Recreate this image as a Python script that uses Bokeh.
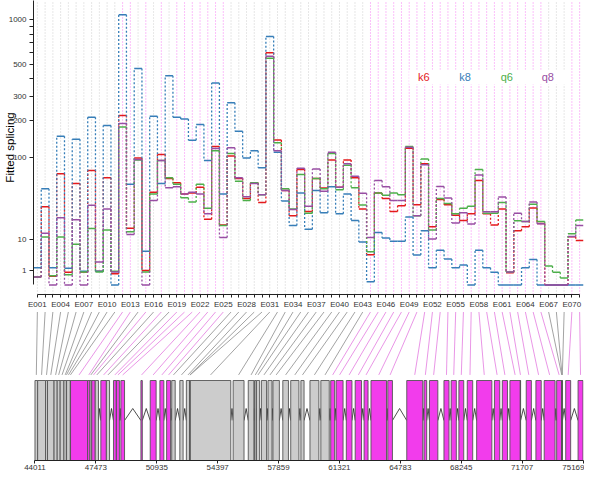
import numpy as np
from bokeh.plotting import figure
from bokeh.layouts import column
from bokeh.models import Range1d, FixedTicker, CustomJSTickFormatter
from bokeh.embed import file_html
from bokeh.resources import INLINE
from bokeh.core.properties import value

# ---------------- data ----------------
exon_ids = ["E%03d" % i for i in range(1, 72)]

k6 = [0.3, 32, 0.35, 72, 0.75, 58, 0.8, 77, 0.9, 66,
      0.6, 218, 16, 100, 1.0, 47, 107, 65, 59, 45,
      46, 53, 22, 125, 18, 104, 65, 40, 59, 36,
      600, 141, 49, 24.5, 79, 28, 65, 52, 96, 53,
      96, 66, 30, 4.4, 46, 40, 28, 33, 121, 34,
      89, 17, 39, 34, 25, 21, 26, 62, 26, 18,
      30, 0.7, 14.6, 17, 31, 19, 0, 0, 0, 11.4, 9.7]
k8 = [1.4, 51, 1.4, 151, 1.3, 143, 0.9, 211, 0.9, 183,
      0, 1070, 57, 470, 5.5, 215, 58, 420, 211, 205,
      140, 186, 95, 373, 45, 270, 165, 100, 115, 82,
      770, 112, 37.5, 17.7, 46, 15.5, 49, 27, 53.6, 26,
      45, 21, 9, 0.05, 13.6, 10.8, 9.3, 9.3, 23.6, 4.3,
      14.6, 1.4, 5.8, 3.2, 1.4, 1.9, 0, 5.8, 1.4, 0.75,
      0, 0, 0, 1.4, 3.1, 0, 0, 0, 0, 0, 0]
q6 = [0.3, 11.3, 0.4, 11.3, 0.5, 8, 0.8, 15.9, 0.8, 15,
      0.9, 178, 14, 96, 0.8, 45, 95, 66, 57, 41,
      36.5, 57, 30.6, 115, 17.7, 109, 61, 38, 59, 44,
      552, 134, 51, 30, 71, 26.5, 65, 51, 109, 50,
      86, 52.5, 33.6, 5.3, 46, 43.5, 46, 44, 125, 24.5,
      98, 15, 40, 35, 26, 30.6, 32.6, 79, 26.5, 26.5,
      36, 0.8, 20.8, 20.4, 34.3, 20.4, 1.7, 0.75, 0.23, 12.9, 21.4]
q8 = [0.3, 13.2, 0, 23, 0, 21.5, 0, 33.5, 2.5, 30,
      0.8, 190, 12.5, 97, 0, 38, 95, 52.5, 53.7, 45,
      47, 45, 26, 120, 11, 122, 66, 42, 58, 44,
      570, 115, 49, 29.6, 81, 32.6, 79.6, 48, 112, 53,
      89, 68, 45.7, 11.1, 62, 53.7, 38, 38, 123, 24.5,
      87, 10.3, 54, 40.5, 19.4, 27, 18.7, 70, 27.8, 27.8,
      41.8, 0.8, 26.5, 20.4, 36.5, 18.9, 0, 0, 0, 11.5, 17.7]

series_names = ["k6", "k8", "q6", "q8"]
series_colors = ["#E41A1C", "#377EB8", "#4DAF4A", "#984EA3"]

exon_start = [44011, 44163, 44612, 44724, 45095, 45274, 45443, 45656, 45797, 45808,
              46021, 46032, 47003, 47138, 47239, 47436, 47756, 48070, 48474, 48643,
              48895, 50035, 50563, 51113, 51495, 51786, 52247, 52617, 52808, 52825,
              52842, 55278, 56137, 56491, 56603, 56884, 57260, 57541, 58102, 58551,
              59130, 59646, 60264, 60825, 61134, 61712, 62217, 62722, 63115, 64070,
              65148, 66130, 66439, 67264, 67674, 68112, 68589, 69122, 70133, 70582,
              71014, 71604, 71941, 72491, 72962, 73670, 73951, 73968, 73985, 74186, 74888]
exon_end = [44163, 44612, 44724, 45095, 45274, 45443, 45656, 45797, 45808, 46021,
            46032, 47003, 47138, 47239, 47436, 47621, 48070, 48250, 48631, 48811,
            49103, 50113, 50899, 51337, 51719, 51983, 52432, 52808, 52825, 52842,
            55144, 55896, 56457, 56586, 56783, 57176, 57485, 57906, 58422, 59017,
            59309, 60151, 60741, 61049, 61527, 62032, 62577, 62947, 63997, 64334,
            66057, 66282, 66916, 67551, 67966, 68387, 68898, 69987, 70436, 70874,
            71604, 71621, 72233, 72794, 73580, 73951, 73968, 73985, 74002, 74467, 75169]
significant = [0, 0, 0, 0, 0, 0, 0, 0, 0, 0,
               0, 1, 1, 0, 1, 0, 1, 0, 1, 1,
               1, 1, 1, 1, 1, 0, 0, 0, 0, 0,
               0, 0, 0, 0, 0, 0, 0, 0, 0, 0,
               0, 0, 0, 1, 1, 1, 1, 1, 1, 1,
               1, 1, 1, 1, 1, 1, 1, 1, 1, 1,
               1, 1, 1, 1, 1, 1, 0, 0, 0, 1, 1]

gene_start, gene_end = 44011, 75169
genomic_ticks = [44011, 47473, 50935, 54397, 57859, 61321, 64783, 68245, 71707, 75169]
ytick_values = [1, 10, 100, 200, 300, 500, 1000]
yminor_values = [400, 600, 700, 800, 900]

# ---------------- helpers ----------------
A = 0.011
def vst(v):
    return np.arcsinh(np.sqrt(A * np.asarray(v, dtype=float)))

n = len(exon_ids)
W = 584
HA = 311
HB = 163
FONT = "Liberation Sans"
TXT = "#333333"
MAG = "#F23CEC"
SIG_LINE = "#F219ED"
NS_LINE = "#A8A8A8"

# ---------------- top panel ----------------
pA = figure(width=W, height=HA, x_range=Range1d(0, n), y_range=Range1d(-0.069, 2.05),
            output_backend="svg", toolbar_location=None,
            min_border_left=28, min_border_right=1, min_border_top=0, min_border_bottom=16)
pA.outline_line_color = None
pA.xgrid.visible = False
pA.ygrid.visible = False

idx = np.arange(n)
mid_x = idx + 0.5
gcol = [(SIG_LINE if s else NS_LINE) for s in significant]
pA.segment(x0=mid_x, x1=mid_x, y0=[-0.069] * n, y1=[2.05] * n,
           line_color=gcol, line_width=1, line_dash="1 2", line_alpha=0.55)

pA.quad(left=[48.5], right=[69.4], bottom=[1.445], top=[1.55],
        fill_color="white", line_color=None)
pA.text(x=[50.4, 55.7, 61.1, 66.4], y=[1.499] * 4, text=series_names,
        text_color=series_colors, text_font_size="11px", text_align="center",
        text_baseline="middle", text_font=value(FONT))

for vals, col in zip([k6, k8, q6, q8], series_colors):
    t = vst(vals)
    pA.segment(x0=idx[:-1] + 1, x1=idx[:-1] + 1, y0=t[:-1], y1=t[1:],
               line_color=col, line_width=1.3, line_dash="2 2")
    pA.segment(x0=idx, x1=idx + 1, y0=t, y1=t, line_color=col, line_width=1.5)

yax = pA.yaxis[0]
yt = vst(ytick_values).tolist()
yax.ticker = FixedTicker(ticks=yt, minor_ticks=vst(yminor_values).tolist())
yax.formatter = CustomJSTickFormatter(args=dict(tpos=yt, tval=ytick_values), code="""
let b = 0;
for (let i = 0; i < tpos.length; i++) { if (Math.abs(tpos[i]-tick) < Math.abs(tpos[b]-tick)) b = i; }
return String(tval[b]);
""")
yax.bounds = (0, 2.05)
yax.axis_label = "Fitted splicing"
yax.axis_label_text_font = FONT
yax.axis_label_text_font_size = "11.5px"
yax.axis_label_text_font_style = "normal"
yax.axis_label_text_color = "black"
yax.axis_label_standoff = -10
yax.major_label_text_font = FONT
yax.major_label_text_font_size = "8px"
yax.major_label_text_color = TXT
yax.major_label_standoff = 3
yax.major_tick_out = 4
yax.major_tick_in = 0
yax.minor_tick_out = 4
yax.minor_tick_in = 0
yax.axis_line_color = "#222222"
yax.major_tick_line_color = "#222222"
yax.minor_tick_line_color = "#222222"

xax = pA.xaxis[0]
xax.ticker = FixedTicker(ticks=mid_x.tolist())
xax.formatter = CustomJSTickFormatter(args=dict(names=exon_ids), code="""
const i = Math.round(tick - 0.5);
return (i % 3 == 0) ? names[i] : "";
""")
xax.bounds = (0.5, n - 0.5)
xax.major_label_text_font = FONT
xax.major_label_text_font_size = "8px"
xax.major_label_text_color = TXT
xax.major_label_standoff = 2
xax.major_tick_out = 3
xax.major_tick_in = 0
xax.minor_tick_line_color = None
xax.axis_line_color = "#222222"
xax.major_tick_line_color = "#222222"

# ---------------- gene model panel ----------------
bpp = (gene_end - gene_start) / 555.0
x0 = gene_start - 1.5 * bpp
x1 = gene_end + 0.5 * bpp
pB = figure(width=W, height=HB, x_range=Range1d(x0, x1), y_range=Range1d(0, 149),
            output_backend="svg", toolbar_location=None,
            min_border_left=28, min_border_right=1, min_border_top=0, min_border_bottom=14)
pB.outline_line_color = None
pB.xgrid.visible = False
pB.ygrid.visible = False
pB.yaxis.visible = False

starts = np.array(exon_start, dtype=float)
ends = np.array(exon_end, dtype=float)
mids = (starts + ends) / 2
tops = x0 + (idx + 0.5) / n * (x1 - x0)
ccol = [("#E37BE0" if s else "#8C8C8C") for s in significant]
pB.segment(x0=tops, y0=[148.5] * n, x1=mids, y1=[85.6] * n, line_color=ccol, line_width=0.8)

ixs, iys = [], []
for i in range(n - 1):
    if starts[i + 1] > ends[i]:
        ixs.append([ends[i], (ends[i] + starts[i + 1]) / 2, starts[i + 1]])
        iys.append([40, 52, 40])
pB.multi_line(xs=ixs, ys=iys, line_color="#222222", line_width=0.8)

fcol = [(MAG if s else "#CCCCCC") for s in significant]
pB.quad(left=starts, right=ends, bottom=0, top=80, fill_color=fcol,
        line_color="#555555", line_width=0.9)

bax = pB.xaxis[0]
bax.ticker = FixedTicker(ticks=genomic_ticks)
bax.bounds = (gene_start, gene_end)
bax.major_label_text_font = FONT
bax.major_label_text_font_size = "8px"
bax.major_label_text_color = TXT
bax.major_label_standoff = 1
bax.major_tick_out = 3
bax.major_tick_in = 0
bax.minor_tick_line_color = None
bax.axis_line_color = "#222222"
bax.major_tick_line_color = "#222222"

layout = column(pA, pB, spacing=0)
open("out.html", "w").write(file_html(layout, INLINE))
